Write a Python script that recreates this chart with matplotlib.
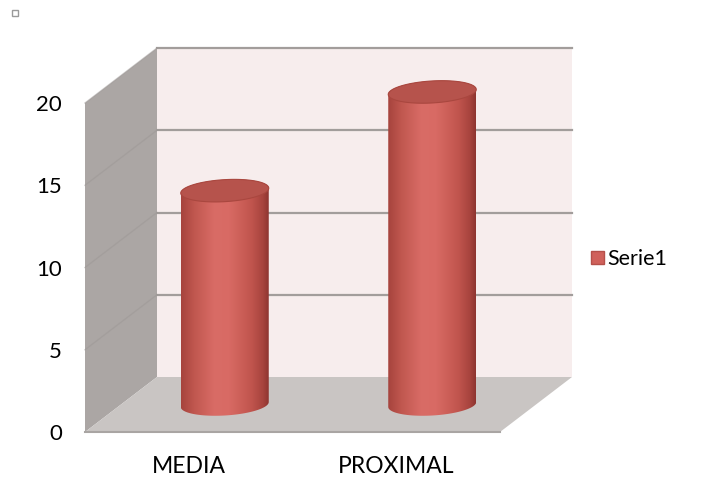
import numpy as np
import matplotlib
matplotlib.use("Agg")
import matplotlib.pyplot as plt
from matplotlib.patches import Polygon, Patch, Rectangle
from matplotlib.colors import LinearSegmentedColormap

# ---- data ----
categories = ["MEDIA", "PROXIMAL"]
values = [13, 19]
series_name = "Serie1"
yticks = [0, 5, 10, 15, 20]

plt.rcParams['font.family'] = ['Lato', 'DejaVu Sans']

W, H = 722, 482
fig = plt.figure(figsize=(W / 100, H / 100), dpi=100)
fig.patch.set_facecolor("white")

# front plane of the 3D box
ax = fig.add_axes([85 / W, (H - 432) / H, 415 / W, 329 / H])
ymax = 20
ax.set_xlim(-0.5, 1.5)
ax.set_ylim(0, ymax)

# oblique depth offset (data units)
DX = 72 / 415 * 2.0
DY = 55 / 329 * ymax

wall_left_c = "#aba6a4"
floor_c = "#c9c5c3"
back_c = "#f7eded"
grid_c = "#a29d9b"

x0, x1 = -0.5, 1.5
# left wall
ax.add_patch(Polygon([(x0, 0), (x0, ymax), (x0 + DX, ymax + DY), (x0 + DX, DY)],
                     closed=True, facecolor=wall_left_c, edgecolor="none", clip_on=False, zorder=1))
# floor
ax.add_patch(Polygon([(x0, 0), (x1, 0), (x1 + DX, DY), (x0 + DX, DY)],
                     closed=True, facecolor=floor_c, edgecolor="none", clip_on=False, zorder=1))
# back wall
ax.add_patch(Polygon([(x0 + DX, DY), (x1 + DX, DY), (x1 + DX, ymax + DY), (x0 + DX, ymax + DY)],
                     closed=True, facecolor=back_c, edgecolor="none", clip_on=False, zorder=1))
# gridlines
for v in yticks:
    if v == 0:
        continue
    ax.plot([x0 + DX, x1 + DX], [v + DY, v + DY], color=grid_c, lw=1.6, clip_on=False, zorder=2)
    ax.plot([x0, x0 + DX], [v, v + DY], color="#9c9795", lw=1.0, alpha=0.5, clip_on=False, zorder=2)
# floor front edge
ax.plot([x0, x1], [0, 0], color="#a9a5a3", lw=1.5, clip_on=False, zorder=2)

# cylinders
cmap = LinearSegmentedColormap.from_list("cyl", [
    (0.0, "#a6433d"), (0.15, "#c0574f"), (0.38, "#d96c66"), (0.55, "#d86a64"),
    (0.8, "#c1554e"), (0.93, "#a8443e"), (1.0, "#8e3530")])
a = 44 / 415 * 2.0          # half width in data x
b = 11 / 329 * ymax          # ellipse half height
tilt = 0.15
grad = np.linspace(0, 1, 256).reshape(1, -1)
th = np.linspace(0, 2 * np.pi, 200)

for i, v in enumerate(values):
    cx = i + 0.5 * DX
    base = 0.5 * DY
    top = v + base
    tb = np.linspace(np.pi, 2 * np.pi, 100)
    tt = np.linspace(0, np.pi, 100)
    xs = np.concatenate([cx + a * np.cos(tb), cx + a * np.cos(tt)])
    ys = np.concatenate([base + b * np.sin(tb) + tilt * np.cos(tb),
                         top + b * np.sin(tt) + tilt * np.cos(tt)])
    body = Polygon(np.column_stack([xs, ys]), closed=True, facecolor="none",
                   edgecolor="none", transform=ax.transData, clip_on=False)
    ax.add_patch(body)
    im = ax.imshow(grad, cmap=cmap, aspect="auto",
                   extent=(cx - a, cx + a, base - b - 0.5, top + b + 0.5),
                   zorder=3, interpolation="bilinear")
    im.set_clip_box(fig.bbox)
    im.set_clip_path(body)
    topx = cx + a * np.cos(th)
    topy = top + b * np.sin(th) + tilt * np.cos(th)
    ax.add_patch(Polygon(np.column_stack([topx, topy]), closed=True, facecolor="#b6534c",
                         edgecolor="#a9473f", lw=0.8, zorder=4, clip_on=False))

ax.set_xlim(-0.5, 1.5)
ax.set_ylim(0, ymax)
for s in ax.spines.values():
    s.set_visible(False)
ax.patch.set_visible(False)
ax.set_yticks(yticks)
ax.set_yticklabels([str(t) for t in yticks])
ax.set_xticks(range(len(categories)))
ax.set_xticklabels(categories)
ax.tick_params(axis="y", length=0, pad=16.5, labelsize=16, labelcolor="black")
ax.tick_params(axis="x", length=0, pad=17, labelsize=16.5, labelcolor="black")

# legend
fig.legend(handles=[Patch(facecolor="#d0615b", edgecolor="#b5504a", label=series_name)],
           loc="center left", bbox_to_anchor=(591 / W, 1 - 259 / H), frameon=False,
           handlelength=0.6, handleheight=0.6, handletextpad=0.15, borderpad=0,
           borderaxespad=0, fontsize=15.5)

# small square top-left
fig.add_artist(Rectangle((12 / W, 1 - 16 / H), 6 / W, 6 / H, transform=fig.transFigure,
                         facecolor="white", edgecolor="#9a9a9a", lw=1))

fig.savefig("out.png", dpi=100, facecolor="white")
